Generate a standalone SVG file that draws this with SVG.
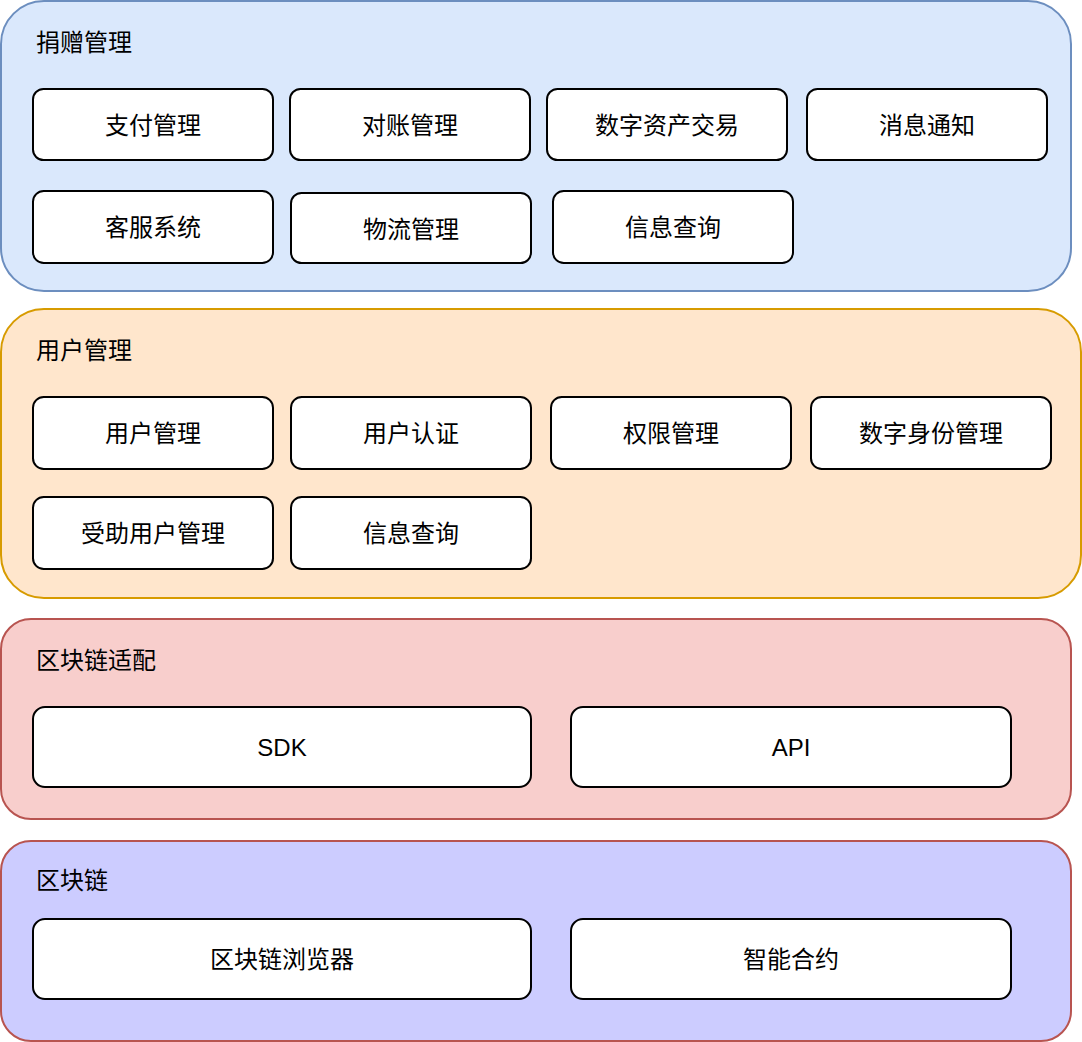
<svg xmlns="http://www.w3.org/2000/svg" width="1082" height="1042" viewBox="0 0 1082 1042">
  <style>
    text { font-family: "Liberation Sans", "Noto Sans CJK SC", sans-serif; font-size: 24px; fill: #000; }
    .title { text-anchor: start; dominant-baseline: central; }
    .lbl { text-anchor: middle; dominant-baseline: central; }
    .item { fill: #ffffff; stroke: #000000; stroke-width: 2; }
    .donate { fill: #dae8fc; stroke: #6c8ebf; stroke-width: 2; }
    .user { fill: #ffe6cc; stroke: #d79b00; stroke-width: 2; }
    .adapt { fill: #f8cecc; stroke: #b85450; stroke-width: 2; }
    .chain { fill: #ccccff; stroke: #b85450; stroke-width: 2; }
  </style>

  <!-- Layer 1: donation management -->
  <g id="layer-donation">
    <rect class="donate" x="1" y="1" width="1070" height="290" rx="43" ry="43"/>
    <text class="title" x="36" y="42">捐赠管理</text>
  </g>
  <g id="payment">
    <rect class="item" x="33" y="89" width="240" height="71" rx="10.5" ry="10.5"/>
    <text class="lbl" x="153" y="125">支付管理</text>
  </g>
  <g id="reconciliation">
    <rect class="item" x="290" y="89" width="240" height="71" rx="10.5" ry="10.5"/>
    <text class="lbl" x="410" y="125">对账管理</text>
  </g>
  <g id="digital-asset-trade">
    <rect class="item" x="547" y="89" width="240" height="71" rx="10.5" ry="10.5"/>
    <text class="lbl" x="667" y="125">数字资产交易</text>
  </g>
  <g id="notification">
    <rect class="item" x="807" y="89" width="240" height="71" rx="10.5" ry="10.5"/>
    <text class="lbl" x="927" y="125">消息通知</text>
  </g>
  <g id="customer-service">
    <rect class="item" x="33" y="191" width="240" height="72" rx="10.8" ry="10.8"/>
    <text class="lbl" x="153" y="227">客服系统</text>
  </g>
  <g id="logistics">
    <rect class="item" x="291" y="193" width="240" height="70" rx="10.5" ry="10.5"/>
    <text class="lbl" x="411" y="229">物流管理</text>
  </g>
  <g id="donation-query">
    <rect class="item" x="553" y="191" width="240" height="72" rx="10.8" ry="10.8"/>
    <text class="lbl" x="673" y="227">信息查询</text>
  </g>

  <!-- Layer 2: user management -->
  <g id="layer-user">
    <rect class="user" x="1" y="309" width="1080" height="289" rx="43" ry="43"/>
    <text class="title" x="36" y="350">用户管理</text>
  </g>
  <g id="user-admin">
    <rect class="item" x="33" y="397" width="240" height="72" rx="10.8" ry="10.8"/>
    <text class="lbl" x="153" y="433">用户管理</text>
  </g>
  <g id="user-auth">
    <rect class="item" x="291" y="397" width="240" height="72" rx="10.8" ry="10.8"/>
    <text class="lbl" x="411" y="433">用户认证</text>
  </g>
  <g id="permissions">
    <rect class="item" x="551" y="397" width="240" height="72" rx="10.8" ry="10.8"/>
    <text class="lbl" x="671" y="433">权限管理</text>
  </g>
  <g id="digital-identity">
    <rect class="item" x="811" y="397" width="240" height="72" rx="10.8" ry="10.8"/>
    <text class="lbl" x="931" y="433">数字身份管理</text>
  </g>
  <g id="recipient-admin">
    <rect class="item" x="33" y="497" width="240" height="72" rx="10.8" ry="10.8"/>
    <text class="lbl" x="153" y="533">受助用户管理</text>
  </g>
  <g id="user-query">
    <rect class="item" x="291" y="497" width="240" height="72" rx="10.8" ry="10.8"/>
    <text class="lbl" x="411" y="533">信息查询</text>
  </g>

  <!-- Layer 3: blockchain adaptation -->
  <g id="layer-adapter">
    <rect class="adapt" x="1" y="619" width="1070" height="200" rx="30" ry="30"/>
    <text class="title" x="36" y="660">区块链适配</text>
  </g>
  <g id="sdk">
    <rect class="item" x="33" y="707" width="498" height="80" rx="12" ry="12"/>
    <text class="lbl" x="282" y="747">SDK</text>
  </g>
  <g id="api">
    <rect class="item" x="571" y="707" width="440" height="80" rx="12" ry="12"/>
    <text class="lbl" x="791" y="747">API</text>
  </g>

  <!-- Layer 4: blockchain -->
  <g id="layer-chain">
    <rect class="chain" x="1" y="841" width="1070" height="200" rx="30" ry="30"/>
    <text class="title" x="36" y="880">区块链</text>
  </g>
  <g id="explorer">
    <rect class="item" x="33" y="919" width="498" height="80" rx="12" ry="12"/>
    <text class="lbl" x="282" y="959">区块链浏览器</text>
  </g>
  <g id="smart-contract">
    <rect class="item" x="571" y="919" width="440" height="80" rx="12" ry="12"/>
    <text class="lbl" x="791" y="959">智能合约</text>
  </g>
</svg>
